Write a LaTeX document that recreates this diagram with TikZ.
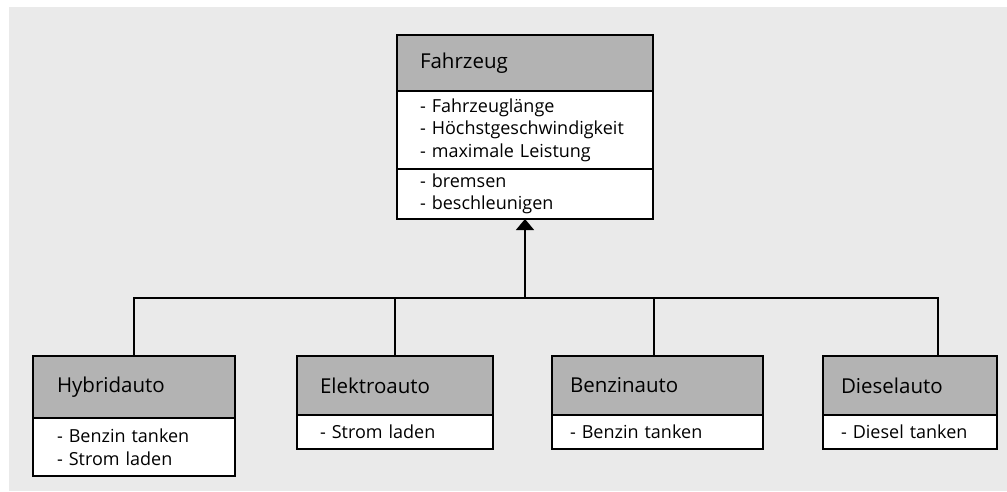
\documentclass[tikz,border=0pt]{standalone}
\usepackage{fontspec}
\setmainfont{Open Sans}
\usetikzlibrary{arrows.meta}
\definecolor{bgcol}{HTML}{EAEAEA}
\definecolor{hdrgray}{HTML}{B3B3B3}
\begin{document}
\begin{tikzpicture}[x=1pt,y=-1pt,
  classbox/.style={draw=black, line width=1.4pt, anchor=north west,
    inner ysep=0pt, outer sep=0pt, align=left},
  hdr/.style={classbox, fill=hdrgray, font=\fontsize{20.5}{24}\selectfont},
  body/.style={classbox, fill=white, font=\fontsize{18}{22.5}\selectfont},
  conn/.style={draw=black, line width=1.4pt}]
\useasboundingbox (0,0) rectangle (1007,491);
\fill[bgcol] (9,7) rectangle (1007,491);

% superclass
\node[hdr, inner xsep=23pt, text width=210pt, minimum height=56pt] (fzh) at (397,35) {Fahrzeug};
\node[body, inner xsep=23pt, text width=210pt, minimum height=78pt] (fza) at (397,91)
  {\mbox{- Fahrzeuglänge}\\\mbox{- Höchstgeschwindigkeit}\\\mbox{- maximale Leistung}};
\node[body, inner xsep=23pt, text width=210pt, minimum height=50pt] (fzm) at (397,169)
  {\mbox{- bremsen}\\\mbox{- beschleunigen}};

% subclasses
\node[hdr, inner xsep=24pt, text width=154pt, minimum height=62pt] (hyh) at (33,356) {Hybridauto};
\node[body, inner xsep=24pt, text width=154pt, minimum height=58pt] (hyb) at (33,418)
  {\mbox{- Benzin tanken}\\\mbox{- Strom laden}};

\node[hdr, inner xsep=23pt, text width=150pt, minimum height=59pt] (elh) at (297,356) {Elektroauto};
\node[body, inner xsep=23pt, text width=150pt, minimum height=34pt] (elb) at (297,415)
  {\mbox{- Strom laden}};

\node[hdr, inner xsep=18pt, text width=175pt, minimum height=59pt] (bzh) at (552,356) {Benzinauto};
\node[body, inner xsep=18pt, text width=175pt, minimum height=34pt] (bzb) at (552,415)
  {\mbox{- Benzin tanken}};

\node[hdr, inner xsep=18pt, text width=138pt, minimum height=59pt] (dsh) at (823,356) {Dieselauto};
\node[body, inner xsep=18pt, text width=138pt, minimum height=34pt] (dsb) at (823,415)
  {\mbox{- Diesel tanken}};

% inheritance connectors
\coordinate (j) at (525,298);
\coordinate (bztop) at (654,356);
\coordinate (dstop) at (938,356);
\draw[conn] (hyh.north) |- (dstop |- j) -- (dstop);
\draw[conn] (elh.north) -- (elh.north |- j);
\draw[conn] (bztop) -- (bztop |- j);
\draw[conn, -{Triangle[width=18pt,length=11pt]}] (j) -- (fzm.south);
\end{tikzpicture}
\end{document}
